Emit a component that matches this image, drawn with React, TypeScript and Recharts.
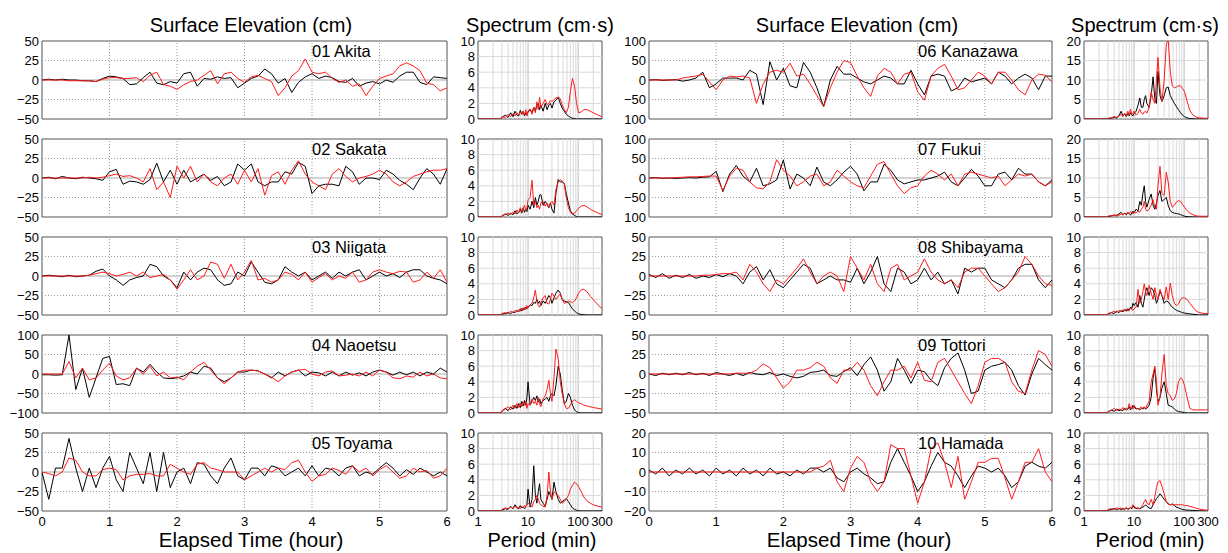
import React from 'react';
import { LineChart, Line, XAxis, YAxis, ReferenceLine, ReferenceArea } from 'recharts';

// ---------- data ----------
const TIME = [0, 0.1, 0.2, 0.3, 0.4, 0.5, 0.6, 0.7, 0.8, 0.9,
  1, 1.1, 1.2, 1.3, 1.4, 1.5, 1.6, 1.7, 1.8, 1.9,
  2, 2.1, 2.2, 2.3, 2.4, 2.5, 2.6, 2.7, 2.8, 2.9,
  3, 3.1, 3.2, 3.3, 3.4, 3.5, 3.6, 3.7, 3.8, 3.9,
  4, 4.1, 4.2, 4.3, 4.4, 4.5, 4.6, 4.7, 4.8, 4.9,
  5, 5.1, 5.2, 5.3, 5.4, 5.5, 5.6, 5.7, 5.8, 5.9, 6];

const PERIOD = [1, 2.9, 3, 3.5, 4, 4.5, 5, 5.5, 6, 6.5,
  7, 7.5, 8, 8.5, 9, 9.5, 10, 11, 12, 13,
  14, 15, 16, 17, 18, 20, 22, 24, 26, 28,
  30, 33, 36, 40, 44, 48, 53, 58, 64, 70,
  77, 85, 93, 102, 115, 130, 150, 175, 200, 250, 300];

const HOUR_TICKS = [0, 1, 2, 3, 4, 5, 6];
const PERIOD_TICKS = [1, 10, 100, 300];
const PERIOD_GRID = [2, 3, 4, 5, 6, 7, 8, 9, 20, 30, 40, 50, 60, 70, 80, 90, 200];
const PERIOD_DECADES = [10, 100];
const T50 = [-50, -25, 0, 25, 50];
const T100 = [-100, -50, 0, 50, 100];
const T20 = [-20, -10, 0, 10, 20];
const S10 = [0, 2, 4, 6, 8, 10];
const S20 = [0, 5, 10, 15, 20];

const STATIONS = ['01 Akita', '02 Sakata', '03 Niigata', '04 Naoetsu', '05 Toyama',
  '06 Kanazawa', '07 Fukui', '08 Shibayama', '09 Tottori', '10 Hamada'];

// surface elevation (cm), black = observed, red = simulated
const B01 = [0,1,0,1,0,0,-1,-1,-2,2, 5,4,2,-6,-5,3,10,-4,-6,-2, -4,8,10,-8,2,1,4,2,3,-10, -4,2,5,14,8,-4,2,-16,-3,4, 8,2,5,3,-2,-3,2,-8,-4,-2, -5,0,-3,5,10,10,-3,-6,4,3, 2];
const R01 = [0,0,0,0,-1,-1,-1,-1,-2,1, 3,3,2,2,3,-2,6,10,-6,-8, -12,-6,-2,0,6,12,-5,8,10,2, -3,4,6,2,-2,-20,-10,5,12,27, 10,8,10,2,-3,0,-8,-5,-20,-8, 2,5,8,18,22,18,12,-4,-6,-14, -10];
const B02 = [0,1,-1,2,0,-1,1,0,-1,-3, 8,11,-8,-4,-5,-8,-2,19,-5,10, -8,10,-5,0,5,-3,2,-10,-5,18, 10,18,-5,-10,-5,-5,8,5,20,15, -20,-10,-8,-8,-10,15,8,-8,0,0, -2,10,5,-3,-8,-15,0,12,5,-8, 12];
const R02 = [0,0,0,0,0,0,0,1,0,1, 3,5,2,3,0,-5,12,-15,-5,-25, 15,0,15,-5,5,-5,-10,0,5,-8, 10,-5,12,-22,3,8,-8,10,22,5, -5,-10,-15,5,12,2,-5,0,2,5, 10,5,-5,-10,-5,2,5,8,10,10, 12];
const B03 = [0,1,0,-1,1,-1,0,1,6,9, 0,-5,-12,-5,-2,0,15,12,0,-5, -15,5,-5,5,10,8,-5,-12,-10,5, 0,18,5,-8,-10,-5,12,5,0,5, -5,0,5,-3,5,0,5,8,-5,0, 5,0,3,-2,5,8,8,0,-3,-5, -10];
const R03 = [0,0,0,0,0,0,0,1,3,5, 3,0,2,5,0,5,-2,0,2,-5, -17,-5,8,-5,0,18,15,-3,15,-5, 5,20,-5,-3,-8,-5,5,2,-5,5, -8,-2,3,-5,0,-3,5,-8,-5,5, 8,5,3,6,5,-8,-5,5,-3,8, -8];
const B04 = [-2,-2,-3,-2,100,-40,15,-60,-10,40, 45,-27,-25,-30,15,5,25,5,-10,-12, -10,-5,5,0,20,15,-10,-20,-10,5, 5,10,8,0,-10,5,-5,5,10,-5, 5,3,-5,5,-5,5,-3,3,-5,5, 10,5,-3,5,-2,5,-5,5,0,15, 5];
const R04 = [0,0,0,0,32,-10,15,-15,-10,10, 28,-5,-15,-10,15,0,20,-5,5,-10, -8,-15,5,20,30,10,-10,-25,-10,5, 10,10,8,0,-8,-20,-5,5,10,12, 0,-5,5,8,-5,-3,0,-5,5,-5, 10,5,-10,-12,-5,-8,5,-5,0,-10, -12];
const B05 = [0,-35,5,5,43,5,-25,5,-20,5, 20,-10,-25,25,5,-15,25,-25,25,-20, 0,5,-15,12,10,-5,-15,5,18,-5, -10,5,5,-5,8,5,-5,0,5,-5, 8,-5,5,3,-5,5,8,-5,0,-3, 5,12,5,-5,3,-3,5,0,-5,0, -5];
const R05 = [0,-2,-5,0,18,15,0,-5,-5,3, 5,3,-10,-5,-3,-3,-2,-5,-5,10, 5,0,-3,10,12,5,3,0,0,0, -10,-5,0,5,0,5,3,12,15,0, -12,-5,-3,5,2,-3,8,0,5,-5, 3,8,0,-8,-5,5,0,2,-8,-5, 5];
const B06 = [0,1,-1,0,1,-3,0,5,20,-20, -10,5,5,5,0,25,15,-63,47,0, 30,-15,-20,45,20,-20,-68,0,35,15, 15,5,-5,-10,0,10,5,-10,-10,25, -10,-38,10,15,10,-28,-20,5,-5,0, 5,-10,20,10,-10,5,15,5,-25,10, 10];
const R06 = [0,0,0,0,0,5,8,10,15,-5, -25,0,10,8,10,5,-60,-10,20,25, 20,43,10,15,-10,-40,-68,-20,20,50, 45,10,-20,-42,10,30,20,-10,15,20, -30,-52,10,30,40,10,-25,-20,0,20, 10,-10,20,20,0,-25,-38,0,15,12, -5];
const B07 = [0,1,-1,0,-1,0,1,0,2,3, 17,-35,10,32,5,-10,25,-20,-15,-5, 46,-28,10,0,-20,28,-10,-20,-5,15, 30,10,-33,-10,-10,35,20,-5,-15,-10, -5,-5,0,5,15,-10,-20,0,22,5, -20,-20,10,15,-5,25,10,10,-10,-20, -5];
const R07 = [0,0,0,0,1,2,3,3,4,5, 5,-32,5,25,20,-10,-25,-28,-10,47, 20,5,-20,-10,5,10,-20,-10,20,5, -10,-20,-25,5,35,42,10,-20,-40,-25, -20,5,20,10,-5,10,-20,10,15,10, 5,0,5,-20,-5,10,5,10,-10,-20, -10];
const B08 = [2,-2,3,-3,1,-2,2,-3,0,-2, 2,-1,3,0,-10,5,12,-5,8,-10, -15,-5,5,15,10,-10,-5,0,-5,-5, -8,10,-10,5,25,-10,-20,10,5,-10, -5,10,-5,5,-10,-5,-23,10,5,10, 10,-5,-10,-15,-5,10,15,15,-5,-15, -5];
const R08 = [0,0,0,0,0,0,0,0,1,1, 2,3,3,5,-5,15,5,-10,-20,-5, -10,0,10,22,5,-10,0,5,0,-20, 25,10,-5,15,-10,-20,10,15,-5,0, 5,22,5,-5,-10,-5,-15,5,10,10, 0,-10,-20,-15,-5,5,25,15,0,-10, -12];
const B09 = [0,-2,1,-1,1,-1,2,-1,1,-2, 2,0,-2,1,-2,2,0,-1,2,-2, 0,-3,-5,-3,2,3,5,-2,-3,3, 8,-2,12,22,5,-22,-10,20,5,-12, 5,3,-8,-15,8,20,27,5,-25,-22, 5,10,12,15,5,-15,-27,0,20,12, 5];
const R09 = [0,0,0,0,0,0,0,0,0,0, 0,0,0,1,1,1,5,13,8,-5, -18,-10,5,5,8,15,10,-5,-12,5, 5,15,5,-15,-28,-10,5,5,10,-5, 15,-8,-10,15,20,5,-10,-25,-38,-15, 15,20,20,15,-10,-22,-25,5,30,25, 10];
const B10 = [1,-1,2,-2,1,-1,2,-1,1,-2, 2,-1,1,-2,2,-1,1,-2,2,-1, 0,-2,1,-1,2,2,0,2,-3,-5, 0,2,-1,-3,-6,-5,5,12,5,-2, -10,-5,3,10,5,3,-2,-8,-2,3, 2,0,2,-2,-8,-5,3,5,3,2, 5];
const R10 = [0,0,0,0,0,0,0,0,0,0, 0,0,0,0,0,0,0,0,0,0, 0,0,0,0,0,2,3,6,-5,-10, 2,8,5,-5,-10,-5,14,12,12,-2, -16,-5,12,15,5,-8,8,-14,-5,5, 5,7,7,-3,-14,-5,5,5,12,0, -5];

// spectra (cm·s) vs period (min)
const SB01 = [0,0,0.2,0.5,0.2,0.8,0.3,1.0,0.5,0.4, 1.1,0.6,1.0,0.4,0.8,0.5,0.9,1.2,0.8,1.5, 1.0,1.8,2.0,1.2,1.8,1.0,2.0,1.2,1.8,2.0, 1.4,2.2,2.4,2.8,2.0,1.4,1.0,0.6,0.4,0.2, 0.1,0.05,0,0,0,0,0,0,0,0, 0];
const SR01 = [0,0,0.3,0.2,0.6,0.3,0.7,0.4,0.8,0.5, 0.9,0.6,1.0,0.5,1.2,0.4,1.0,1.3,0.6,1.5, 0.8,2.2,1.2,2.8,1.5,2.0,2.5,1.8,2.0,2.4, 2.2,2.5,2.7,2.8,2.6,1.8,1.2,0.8,1.5,3.5, 5.2,4.2,2.0,0.8,0.9,1.2,1.2,1.0,0.8,0.5, 0.3];
const SB02 = [0,0,0.1,0.4,0.2,0.5,0.3,0.8,0.4,0.6, 1.0,0.5,1.2,0.6,1.0,0.7,1.5,1.0,2.0,1.2, 2.5,1.5,2.0,2.8,2.9,1.5,2.0,1.6,1.2,1.8, 1.0,0.5,3.0,4.8,4.5,4.5,4.3,3.0,1.8,0.8, 0.4,0.2,0.05,0,0,0,0,0,0,0, 0];
const SR02 = [0,0,0.2,0.3,0.5,0.3,0.6,0.4,0.9,0.5, 1.2,0.7,1.0,1.5,0.8,1.2,2.2,2.5,4.7,1.5, 2.0,1.2,1.5,1.0,1.8,2.0,1.4,1.8,1.2,1.8, 2.0,1.5,3.5,4.5,4.8,4.6,4.2,2.5,1.2,0.6, 0.4,0.5,0.8,1.1,1.4,1.5,1.3,1.0,0.8,0.5, 0.3];
const SB03 = [0,0,0.1,0.2,0.3,0.2,0.4,0.3,0.6,0.4, 0.8,0.5,0.9,0.7,1.0,0.8,1.0,1.3,1.2,1.6, 1.5,2.0,1.5,1.8,1.2,1.8,1.5,2.0,2.5,2.2, 1.5,2.2,2.8,3.2,2.8,2.0,1.8,1.7,1.6,1.2, 0.8,0.5,0.3,0.15,0.08,0.03,0,0,0,0, 0];
const SR03 = [0,0,0.2,0.3,0.2,0.5,0.3,0.6,0.4,0.7, 0.5,0.9,0.6,1.0,0.7,1.2,0.9,1.3,1.5,2.2, 3.2,1.8,1.2,1.0,1.5,2.2,2.5,1.5,1.4,2.0, 2.8,2.4,2.0,2.4,2.7,2.0,1.5,1.6,1.8,1.7, 1.6,1.8,2.2,2.8,3.2,3.3,3.0,2.4,2.0,1.3, 0.8];
const SB04 = [0,0,0.2,0.6,0.3,0.8,0.5,1.0,0.6,1.2, 0.7,1.5,0.9,1.6,1.0,2.0,4.0,1.0,1.5,2.0, 1.6,2.2,1.4,1.8,1.2,1.6,1.8,2.0,1.5,2.2, 2.5,2.2,3.5,6.0,5.0,3.0,1.2,1.5,2.5,2.0, 1.0,0.4,0.15,0.05,0,0,0,0,0,0, 0];
const SR04 = [0,0,0.3,0.5,0.8,0.4,1.0,0.6,1.2,0.7, 1.3,0.8,1.4,1.0,1.5,0.6,1.2,1.0,1.8,1.2, 1.5,1.0,2.0,1.2,0.8,1.8,2.2,3.0,4.2,2.5, 1.5,4.5,8.2,7.0,4.0,2.5,1.2,0.6,0.6,1.0, 1.5,1.7,1.5,1.3,1.2,1.0,0.9,0.8,0.7,0.6, 0.5];
const SB05 = [0,0,0.1,0.3,0.2,0.6,0.3,0.8,0.4,0.3, 0.7,0.4,0.5,0.3,0.6,0.8,2.8,0.5,1.5,5.8, 2.0,1.0,2.5,3.5,1.5,1.0,0.6,1.5,2.5,2.0, 1.5,3.7,2.5,1.5,1.0,1.2,1.4,1.6,1.2,0.8, 0.4,0.2,0.1,0.03,0,0,0,0,0,0, 0];
const SR05 = [0,0,0.2,0.4,0.3,0.5,0.3,0.6,0.4,0.5, 0.3,0.6,0.4,0.7,0.5,0.8,1.0,0.8,0.5,1.2, 1.5,2.0,1.5,1.0,0.8,0.6,0.5,2.0,5.0,2.5, 1.5,2.5,2.2,2.0,1.5,1.0,1.2,1.5,2.0,2.8, 3.3,3.7,3.5,3.1,2.5,1.8,1.3,1.0,0.8,0.6, 0.5];
const SB06 = [0,0,0.1,0.2,0.4,0.3,0.8,2.0,0.8,1.2, 0.6,1.4,0.8,1.6,1.0,0.8,1.4,2.0,3.5,5.4, 3.0,3.0,5.0,6.0,4.0,3.0,6.0,10.8,5.0,4.0, 12.2,6.0,4.5,6.0,8.0,8.2,6.0,5.0,4.0,3.2, 2.4,1.6,1.0,0.6,0.3,0.1,0.05,0,0,0, 0];
const SR06 = [0,0,0.2,0.3,0.6,0.4,0.8,1.2,0.6,1.5, 0.8,2.0,1.0,2.5,1.2,1.5,2.0,1.0,1.5,2.5, 1.5,1.2,1.8,2.0,1.5,3.0,7.0,5.0,4.0,10.0, 15.8,8.0,4.5,10.0,19.0,20.5,12.0,8.5,8.0,8.2, 8.5,8.5,7.8,7.0,4.5,2.2,1.0,0.5,0.3,0.2, 0.2];
const SB07 = [0,0,0.1,0.3,0.5,0.3,0.8,1.2,0.6,1.0, 0.5,1.2,0.8,0.5,1.0,1.5,1.0,2.0,1.5,4.0, 3.0,6.0,8.0,4.0,2.5,4.5,5.9,3.0,2.0,3.5, 5.5,6.8,4.0,4.5,5.0,3.0,1.6,1.2,1.0,0.9, 0.8,0.6,0.4,0.2,0.1,0.05,0,0,0,0, 0];
const SR07 = [0,0,0.2,0.4,0.3,0.6,0.4,0.8,0.5,1.0, 0.7,1.2,0.8,1.4,1.0,0.8,1.2,1.0,1.5,1.2, 2.0,2.5,4.0,2.0,1.5,2.0,3.0,4.5,2.5,2.0, 8.0,13.0,6.0,5.5,11.5,9.0,4.0,2.5,3.0,3.8, 4.2,4.0,3.2,2.5,1.6,1.0,0.6,0.3,0.2,0.2, 0.2];
const SB08 = [0,0,0.1,0.3,0.2,0.5,0.3,0.6,0.4,0.7, 0.5,0.8,0.6,1.0,0.8,1.5,1.2,1.6,1.0,2.5, 1.5,1.0,2.0,3.0,3.5,2.5,3.5,3.2,2.5,1.5, 2.0,3.0,2.5,1.5,1.8,1.7,1.3,1.0,0.8,0.6, 0.5,0.4,0.3,0.25,0.2,0.15,0.1,0.05,0,0, 0];
const SR08 = [0,0,0.2,0.3,0.5,0.3,0.6,0.4,0.7,0.5, 0.8,0.5,0.6,0.9,0.7,0.6,0.8,1.0,3.3,1.5, 2.0,3.0,4.0,3.0,2.5,3.8,2.8,2.0,3.5,2.5, 2.0,3.3,2.5,2.0,3.6,2.0,4.1,2.5,1.5,1.2, 1.4,2.0,2.2,2.2,2.0,1.5,1.0,0.5,0.3,0.2, 0.2];
const SB09 = [0,0,0.1,0.4,0.2,0.5,0.3,0.4,0.3,0.6, 0.4,0.5,0.8,0.4,0.6,1.0,0.8,0.5,0.6,0.4, 0.6,0.5,0.7,0.5,0.6,1.0,2.0,4.5,5.7,3.0, 1.5,2.0,3.2,4.0,2.5,1.0,0.9,0.8,0.5,0.3, 0.2,0.15,0.1,0.05,0,0,0,0,0,0, 0];
const SR09 = [0,0,0.2,0.3,0.6,0.3,0.5,0.4,0.7,0.4, 0.6,0.5,1.2,0.6,0.8,0.5,1.0,0.6,0.5,0.6, 0.8,0.6,0.8,0.5,1.0,1.5,4.0,5.0,6.0,4.0, 1.0,2.0,5.0,7.5,3.5,2.5,2.2,1.6,1.8,2.5, 4.0,4.5,4.3,3.5,2.0,0.6,0.4,0.4,0.4,0.4, 0.4];
const SB10 = [0,0,0.1,0.2,0.3,0.2,0.3,0.2,0.3,0.2, 0.4,0.2,0.3,0.4,0.3,0.6,0.5,0.3,0.4,0.3, 0.4,0.5,0.6,0.8,0.6,0.4,0.3,0.8,1.2,1.6, 1.8,2.2,1.9,1.5,1.2,0.9,0.8,0.9,0.7,0.5, 0.4,0.3,0.2,0.15,0.12,0.1,0.08,0.05,0.02,0, 0];
const SR10 = [0,0,0.2,0.3,0.2,0.4,0.3,0.4,0.2,0.3, 0.4,0.3,0.3,0.5,0.4,0.8,0.6,0.4,0.3,0.3, 0.5,0.8,1.2,1.5,1.0,0.8,1.5,0.8,1.8,3.0, 3.7,3.9,3.2,2.2,1.2,0.9,0.8,0.8,0.8,0.8, 0.8,0.8,0.8,0.7,0.7,0.6,0.5,0.35,0.25,0.15, 0.1];

// ---------- layout / style ----------
const FONT = '"Liberation Sans", Arial, Helvetica, sans-serif';
const ROW_TOPS = [41, 139, 237, 335, 433];
const PLOT_H = 78;
const COLS = { lts: { x: 42, w: 405 }, lsp: { x: 478, w: 124 }, rts: { x: 649, w: 403 }, rsp: { x: 1084, w: 124 } };
const BLACK = '#000000';
const RED = '#ff1a1a';
const FRAME = '#555555';
const TICK = { fontSize: 13, fill: '#000', fontFamily: FONT };
const M_TOP = 9;
const M_BOT = 9;

const minusFmt = (v: number) => (v < 0 ? '\u2212' + Math.abs(v) : String(v));
const clipFmt = (v: number) => (v <= -100 ? '100' : minusFmt(v));

type TSProps = { x: number; y: number; w: number; black: number[]; red: number[]; ticks: number[]; fmt: (v: number) => string; showX: boolean };

function TSPanel({ x, y, w, black, red, ticks, fmt, showX }: TSProps) {
  const data = TIME.map((t, i) => ({ t, b: black[i], r: red[i] }));
  const yMax = ticks[ticks.length - 1];
  const yW = 44, mR = 12, xH = showX ? 24 : 0;
  return (
    <div style={{ position: 'absolute', left: x - yW, top: y - M_TOP }}>
      <LineChart width={yW + w + mR} height={M_TOP + PLOT_H + xH + M_BOT} data={data} margin={{ top: M_TOP, right: mR, bottom: M_BOT, left: 0 }}>
        <XAxis dataKey="t" type="number" domain={[0, 6]} ticks={HOUR_TICKS} interval={0} hide={!showX} height={xH}
          tickLine={false} axisLine={false} tickSize={0} tickMargin={6} tick={TICK} allowDataOverflow />
        <YAxis type="number" domain={[-yMax, yMax]} ticks={ticks} interval={0} width={yW} tickFormatter={fmt}
          tickLine={false} axisLine={false} tickSize={0} tickMargin={3} tick={TICK} allowDataOverflow />
        {HOUR_TICKS.slice(1, -1).map((h) => (
          <ReferenceLine key={'v' + h} x={h} stroke="#9a9a9a" strokeDasharray="1 2" />
        ))}
        {ticks.filter((v) => v !== 0 && Math.abs(v) !== yMax).map((v) => (
          <ReferenceLine key={'h' + v} y={v} stroke="#9a9a9a" strokeDasharray="1 2" />
        ))}
        <ReferenceLine y={0} stroke="#a8a8a8" strokeWidth={1.2} />
        <Line dataKey="b" type="linear" stroke={BLACK} strokeWidth={1} dot={false} isAnimationActive={false} />
        <Line dataKey="r" type="linear" stroke={RED} strokeWidth={1} dot={false} isAnimationActive={false} />
        <ReferenceArea x1={0} x2={6} y1={-yMax} y2={yMax} fill="none" fillOpacity={0} stroke={FRAME} strokeWidth={1} />
      </LineChart>
    </div>
  );
}

type SPProps = { x: number; y: number; w: number; black: number[]; red: number[]; ticks: number[]; showX: boolean };

function SpecPanel({ x, y, w, black, red, ticks, showX }: SPProps) {
  const data = PERIOD.map((p, i) => ({ p, b: black[i], r: red[i] }));
  const yMax = ticks[ticks.length - 1];
  const yW = 28, mR = 14, xH = showX ? 24 : 0;
  return (
    <div style={{ position: 'absolute', left: x - yW, top: y - M_TOP }}>
      <LineChart width={yW + w + mR} height={M_TOP + PLOT_H + xH + M_BOT} data={data} margin={{ top: M_TOP, right: mR, bottom: M_BOT, left: 0 }}>
        <XAxis dataKey="p" type="number" scale="log" domain={[1, 300]} ticks={PERIOD_TICKS} interval={0} hide={!showX} height={xH}
          tickLine={false} axisLine={false} tickSize={0} tickMargin={6} tick={TICK} allowDataOverflow />
        <YAxis type="number" domain={[0, yMax]} ticks={ticks} interval={0} width={yW}
          tickLine={false} axisLine={false} tickSize={0} tickMargin={3} tick={TICK} allowDataOverflow />
        {PERIOD_GRID.map((p) => (
          <ReferenceLine key={'g' + p} x={p} stroke="#d9d9d9" />
        ))}
        {PERIOD_DECADES.map((p) => (
          <ReferenceLine key={'d' + p} x={p} stroke="#bdbdbd" />
        ))}
        {ticks.filter((v) => v !== 0 && v !== yMax).map((v) => (
          <ReferenceLine key={'h' + v} y={v} stroke="#d9d9d9" />
        ))}
        <Line dataKey="b" type="linear" stroke={BLACK} strokeWidth={1} dot={false} isAnimationActive={false} />
        <Line dataKey="r" type="linear" stroke={RED} strokeWidth={1} dot={false} isAnimationActive={false} />
        <ReferenceArea x1={1} x2={300} y1={0} y2={yMax} fill="none" fillOpacity={0} stroke={FRAME} strokeWidth={1} />
      </LineChart>
    </div>
  );
}

const LEFT_TS = [
  { b: B01, r: R01, ticks: T50, fmt: minusFmt },
  { b: B02, r: R02, ticks: T50, fmt: minusFmt },
  { b: B03, r: R03, ticks: T50, fmt: minusFmt },
  { b: B04, r: R04, ticks: T100, fmt: minusFmt },
  { b: B05, r: R05, ticks: T50, fmt: minusFmt },
];
const RIGHT_TS = [
  { b: B06, r: R06, ticks: T100, fmt: clipFmt },
  { b: B07, r: R07, ticks: T100, fmt: clipFmt },
  { b: B08, r: R08, ticks: T50, fmt: minusFmt },
  { b: B09, r: R09, ticks: T50, fmt: minusFmt },
  { b: B10, r: R10, ticks: T20, fmt: minusFmt },
];
const LEFT_SP = [
  { b: SB01, r: SR01, ticks: S10 },
  { b: SB02, r: SR02, ticks: S10 },
  { b: SB03, r: SR03, ticks: S10 },
  { b: SB04, r: SR04, ticks: S10 },
  { b: SB05, r: SR05, ticks: S10 },
];
const RIGHT_SP = [
  { b: SB06, r: SR06, ticks: S20 },
  { b: SB07, r: SR07, ticks: S20 },
  { b: SB08, r: SR08, ticks: S10 },
  { b: SB09, r: SR09, ticks: S10 },
  { b: SB10, r: SR10, ticks: S10 },
];

export default function App() {
  return (
    <div style={{ position: 'absolute', left: 0, top: 0, width: 1228, height: 553, background: '#fff', fontFamily: FONT, overflow: 'hidden' }}>
      {LEFT_TS.map((p, i) => (
        <TSPanel key={'lt' + i} x={COLS.lts.x} y={ROW_TOPS[i]} w={COLS.lts.w} black={p.b} red={p.r} ticks={p.ticks} fmt={p.fmt} showX={i === 4} />
      ))}
      {LEFT_SP.map((p, i) => (
        <SpecPanel key={'ls' + i} x={COLS.lsp.x} y={ROW_TOPS[i]} w={COLS.lsp.w} black={p.b} red={p.r} ticks={p.ticks} showX={i === 4} />
      ))}
      {RIGHT_TS.map((p, i) => (
        <TSPanel key={'rt' + i} x={COLS.rts.x} y={ROW_TOPS[i]} w={COLS.rts.w} black={p.b} red={p.r} ticks={p.ticks} fmt={p.fmt} showX={i === 4} />
      ))}
      {RIGHT_SP.map((p, i) => (
        <SpecPanel key={'rs' + i} x={COLS.rsp.x} y={ROW_TOPS[i]} w={COLS.rsp.w} black={p.b} red={p.r} ticks={p.ticks} showX={i === 4} />
      ))}
      <svg width={1228} height={553} style={{ position: 'absolute', left: 0, top: 0, pointerEvents: 'none' }}>
        <g fontFamily={FONT} fill="#000">
          <text x={251} y={32} fontSize={20} textAnchor="middle">Surface Elevation (cm)</text>
          <text x={540} y={32} fontSize={20} textAnchor="middle">Spectrum (cm·s)</text>
          <text x={857} y={32} fontSize={20} textAnchor="middle">Surface Elevation (cm)</text>
          <text x={1145} y={32} fontSize={20} textAnchor="middle">Spectrum (cm·s)</text>
          <text x={251} y={547} fontSize={20.5} textAnchor="middle">Elapsed Time (hour)</text>
          <text x={542} y={547} fontSize={20} textAnchor="middle">Period (min)</text>
          <text x={859} y={547} fontSize={20.5} textAnchor="middle">Elapsed Time (hour)</text>
          <text x={1150} y={547} fontSize={20} textAnchor="middle">Period (min)</text>
          {STATIONS.slice(0, 5).map((s, i) => (
            <text key={s} x={312} y={ROW_TOPS[i] + 16} fontSize={16.5}>{s}</text>
          ))}
          {STATIONS.slice(5).map((s, i) => (
            <text key={s} x={918} y={ROW_TOPS[i] + 16} fontSize={16.5}>{s}</text>
          ))}
        </g>
      </svg>
    </div>
  );
}
